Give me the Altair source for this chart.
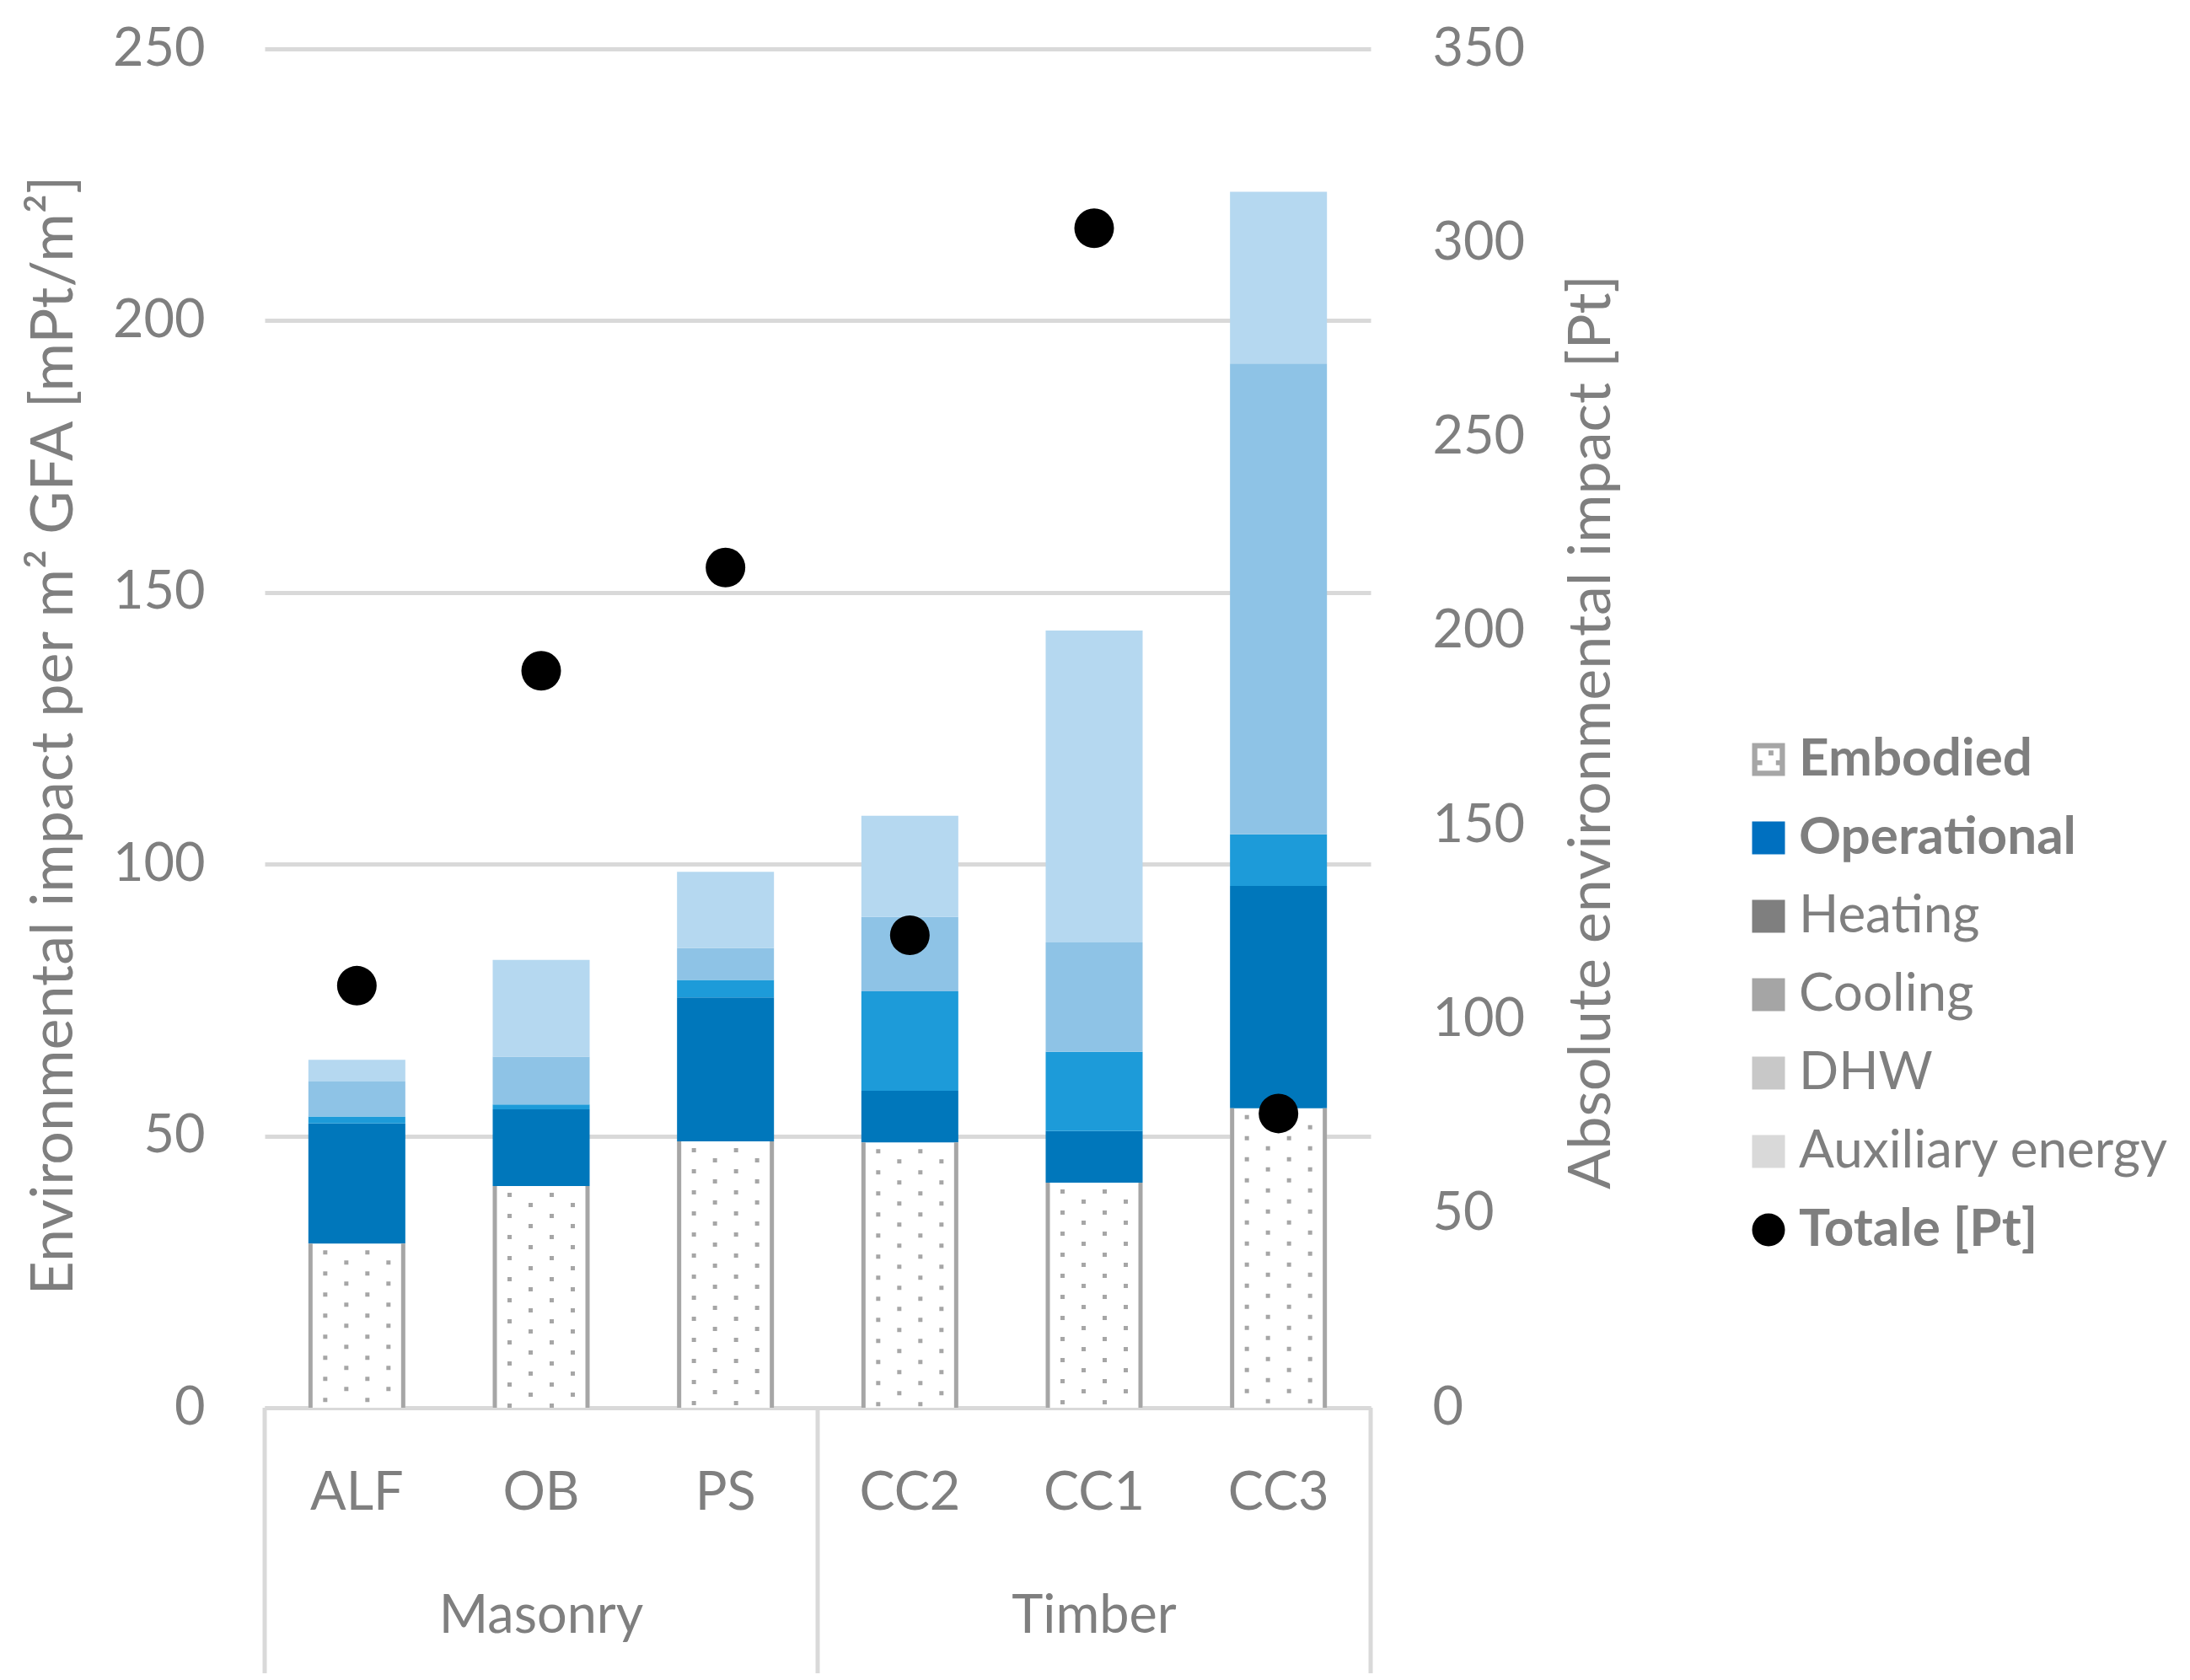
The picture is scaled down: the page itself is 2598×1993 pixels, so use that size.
import altair as alt
import pandas as pd

# ---------------- data ----------------
cats = ["ALF", "OB", "PS", "CC2", "CC1", "CC3"]
embodied = [30.2, 40.8, 49.0, 48.8, 41.4, 55.1]
heating = [22.1, 14.1, 26.5, 9.5, 9.5, 40.9]
cooling = [1.3, 0.9, 3.2, 18.3, 14.6, 9.5]
dhw = [6.4, 8.8, 5.9, 13.7, 20.1, 86.6]
auxiliary = [4.0, 17.8, 14.0, 18.6, 57.4, 31.6]
totale = [108.7, 189.8, 216.4, 121.7, 303.8, 75.8]

group_names = ["Masonry", "Timber"]
group_mid = ["OB", "CC1"]
group_start = ["ALF", "CC2"]
group_end = ["CC3"]

components = ["Embodied", "Heating", "Cooling", "DHW", "Auxiliary energy"]
component_fill = ["#FFFFFF", "#0077BB", "#1D9BD9", "#8EC3E6", "#B5D8F0"]

legend_items = ["Embodied", "Operational", "Heating", "Cooling", "DHW",
                "Auxiliary energy", "Totale [Pt]"]
legend_colors = ["#A6A6A6", "#0070C0", "#7F7F7F", "#A5A5A5", "#C8C8C8",
                 "#D9D9D9", "#000000"]
bold_items = ["Embodied", "Operational", "Totale [Pt]"]

SQ = "M-1,-1H1V1H-1Z"
DOTTED = ("M-1,-1H1V1H-1Z M-0.68,-0.68V0.68H0.68V-0.68Z "
          "M0,-0.55H0.3V-0.25H0Z M-0.68,0.05H-0.38V0.35H-0.68Z "
          "M0.45,0.05H0.68V0.35H0.45Z")
legend_shapes = [DOTTED, SQ, SQ, SQ, SQ, SQ, "circle"]

# ---------------- tables ----------------
series = [embodied, heating, cooling, dhw, auxiliary]
rows = []
for i, c in enumerate(cats):
    for k, comp in enumerate(components):
        rows.append({"cat": c, "comp": comp, "value": series[k][i],
                     "fill": component_fill[k], "ord": k})
df_long = pd.DataFrame(rows)
df_wide = pd.DataFrame({"cat": cats, "emb": embodied, "totale": totale})
df_grp = pd.DataFrame({"mid": group_mid, "name": group_names})
df_sep1 = pd.DataFrame({"cat": group_start})
df_sep2 = pd.DataFrame({"cat": group_end})
df_leg = pd.DataFrame({"item": legend_items})

W, H = 1312, 1612
FONT = "Lato"
GRAY = "#7F7F7F"
FS = 63
TFS = 70

xscale = alt.Scale(domain=cats, paddingInner=0, paddingOuter=0)
yleft = alt.Scale(domain=[0, 250], nice=False)
yright = alt.Scale(domain=[0, 350], nice=False)

xaxis = alt.Axis(title=None, domainColor="#D9D9D9", domainWidth=5, ticks=False,
                 labelPadding=101, labelBaseline="middle", labelAngle=0,
                 grid=False, labelFontSize=FS, labelLimit=0)
left_axis = alt.Axis(title="Environmental impact per m² GFA [mPt/m²]",
                     values=[0, 50, 100, 150, 200, 250], grid=True,
                     gridColor="#D9D9D9", gridWidth=5, domain=False, ticks=False,
                     labelPadding=71, titleX=-250, titleY=814, titleAngle=270,
                     titleAlign="center", titleBaseline="middle",
                     labelFontSize=FS, titleFontSize=TFS, labelLimit=0)
right_axis = alt.Axis(title="Absolute environmental impact [Pt]", orient="right",
                      values=[0, 50, 100, 150, 200, 250, 300, 350], grid=False,
                      domain=False, ticks=False, labelPadding=73, titleX=262,
                      titleY=810, titleAngle=270, titleAlign="center",
                      titleBaseline="middle", labelFontSize=FS, titleFontSize=TFS,
                      labelLimit=0)


def X(field, **kw):
    return alt.X(field, scale=xscale, axis=xaxis, **kw)


def YL(field):
    return alt.Y(field, scale=yleft, axis=left_axis)


bars = alt.Chart(df_long).mark_bar(width=alt.RelativeBandSize(0.526)).encode(
    x=X("cat:N"),
    y=alt.Y("value:Q", scale=yleft, axis=left_axis, stack="zero"),
    fill=alt.Fill("fill:N", scale=None),
    order=alt.Order("ord:Q"),
)

layers = [bars]
# side borders of the embodied part
for off in (-55.0, 55.0):
    layers.append(
        alt.Chart(df_wide).mark_rule(xOffset=off, color="#A6A6A6", strokeWidth=5).encode(
            x=X("cat:N"), y=YL("emb:Q"), y2=alt.datum(0),
        )
    )
# dotted texture of the embodied part
for j, off in enumerate((-37.5, -12.5, 12.5, 37.5)):
    layers.append(
        alt.Chart(df_wide).mark_rule(xOffset=off, color="#A6A6A6", strokeWidth=5,
                                     strokeDash=[5, 20], strokeCap="butt",
                                     strokeDashOffset=(17 if j % 2 == 0 else 5)).encode(
            x=X("cat:N"), y=YL("emb:Q"), y2=alt.datum(0),
        )
    )
# group separators below the axis
layers.append(
    alt.Chart(df_sep1).mark_rule(color="#D9D9D9", strokeWidth=5).encode(
        x=X("cat:N", bandPosition=0),
        y=alt.value(H), y2=alt.value(H + 318),
    )
)
layers.append(
    alt.Chart(df_sep2).mark_rule(color="#D9D9D9", strokeWidth=5).encode(
        x=X("cat:N", bandPosition=1),
        y=alt.value(H), y2=alt.value(H + 318),
    )
)
layers.append(
    alt.Chart(df_grp).mark_text(font=FONT, fontSize=FS, color=GRAY,
                                baseline="middle").encode(
        x=X("mid:N"),
        y=alt.value(H + 248),
        text="name:N",
    )
)
legend = alt.Legend(title=None, orient="none", legendX=1753, legendY=812,
                    labelFont=FONT, labelFontSize=62, labelColor=GRAY,
                    symbolSize=1521, symbolOpacity=1, symbolStrokeWidth=0,
                    labelOffset=5, rowPadding=31, labelLimit=0,
                    labelFontWeight={"expr": "indexof(" + str(bold_items) +
                                     ", datum.label) >= 0 ? 'bold' : 'normal'"})
layers.append(
    alt.Chart(df_leg).mark_point(filled=True, opacity=0).encode(
        color=alt.Color("item:N", scale=alt.Scale(domain=legend_items, range=legend_colors),
                        legend=legend),
        shape=alt.Shape("item:N", scale=alt.Scale(domain=legend_items, range=legend_shapes),
                        legend=legend),
    )
)

left = alt.layer(*layers)

dots = alt.Chart(df_wide).mark_circle(size=2209, color="black", opacity=1).encode(
    x=X("cat:N"),
    y=alt.Y("totale:Q", scale=yright, axis=right_axis),
)

chart = alt.layer(left, dots).resolve_scale(y="independent").properties(
    width=W, height=H,
    padding={"left": 306, "top": 50, "right": 964, "bottom": 315},
    autosize=alt.AutoSizeParams(type="none"),
    background="white",
).configure_view(stroke=None).configure_axis(
    labelFont=FONT, titleFont=FONT, labelColor=GRAY, titleColor=GRAY,
    titleFontWeight="normal",
).configure_text(font=FONT)

chart.save("out.html", embed_options={"renderer": "svg", "actions": False})
